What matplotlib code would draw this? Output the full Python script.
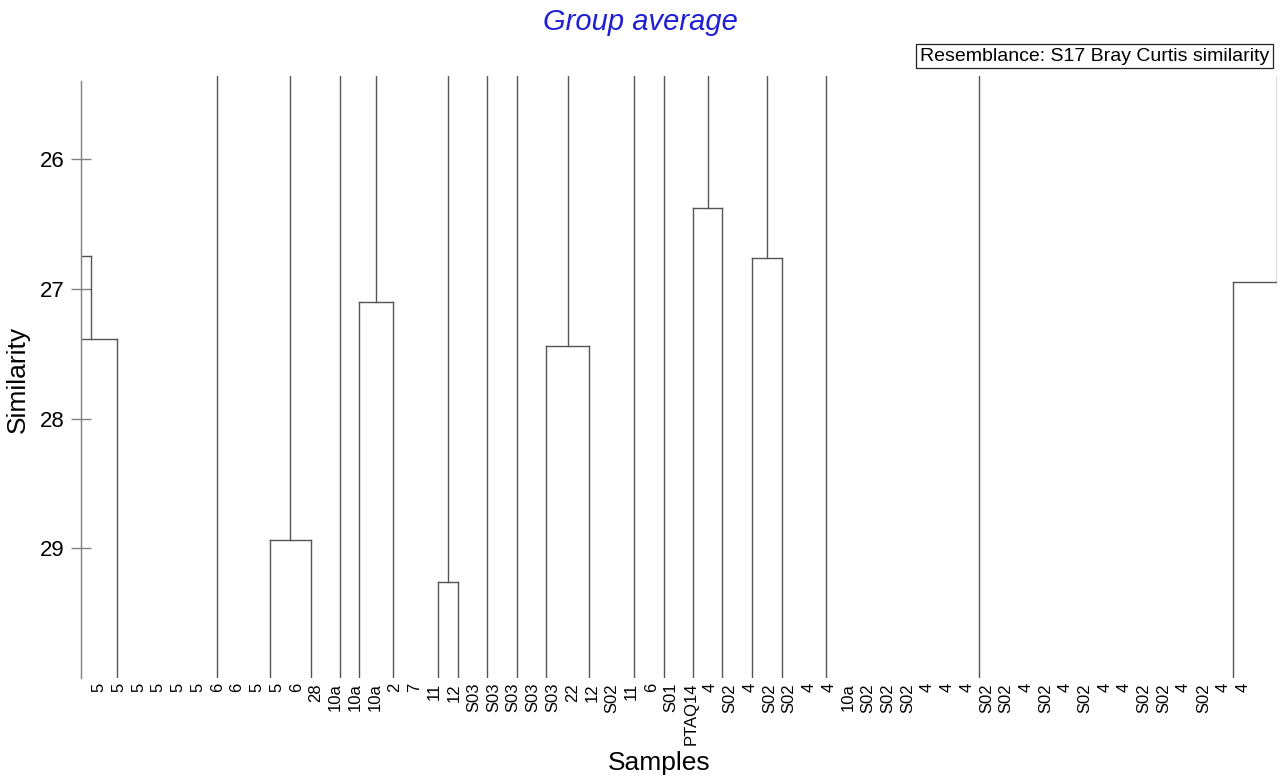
import numpy as np
import matplotlib.pyplot as plt

plt.rcParams['font.family'] = ['Liberation Sans', 'DejaVu Sans']

# sample names along the bottom, in dendrogram order
samples = ['5', '5', '5', '5', '5', '5', '6', '6', '5', '5', '6', '28', '10a', '10a', '10a',
           '2', '7', '11', '12', 'S03', 'S03', 'S03', 'S03', 'S03', '22', '12', 'S02', '11',
           '6', 'S01', 'PTAQ14', '4', 'S02', '4', 'S02', 'S02', '4', '4', '10a', 'S02', 'S02',
           'S02', '4', '4', '4', 'S02', 'S02', '4', 'S02', '4', 'S02', '4', '4', 'S02', 'S02',
           '4', 'S02', '4', '4']

# joins visible in the similarity window: left branch, right branch, similarity level
join_left = [-3.0, -1.76, 8.67, 13.20, 17.17, 22.65, 30.14, 33.10, 57.52]
join_right = [-0.42, 0.92, 10.74, 14.92, 18.19, 24.86, 31.61, 34.62, 62.0]
join_sim = [26.75, 27.39, 28.94, 27.10, 29.26, 27.44, 26.38, 26.76, 26.95]

# groups that only join above the visible window
group_x = [5.97, 12.22, 19.66, 21.18, 27.13, 28.64, 36.84, 44.62]

sim_top = 25.36
sim_base = 30.0
line_col = '#555555'

fig = plt.figure(figsize=(12.88, 7.78), dpi=100)
ax = fig.add_axes([0.0627, 0.1285, 0.9285, 0.7738])

centres = [(l + r) / 2 for l, r in zip(join_left, join_right)]

for l, r, s in zip(join_left, join_right, join_sim):
    ax.plot([l, r], [s, s], color=line_col, lw=1.0)
    for xb in (l, r):
        lower = sim_base
        for c, cs in zip(centres, join_sim):
            if abs(c - xb) < 0.05:
                lower = cs
        ax.plot([xb, xb], [s, lower], color=line_col, lw=1.0)

# stems running up out of the window
for c, s in zip(centres, join_sim):
    has_parent = any(abs(c - xb) < 0.05 for xb in join_left + join_right)
    if not has_parent:
        ax.plot([c, c], [s, sim_top], color=line_col, lw=1.0)

for xg in group_x:
    ax.plot([xg, xg], [sim_base, sim_top], color=line_col, lw=1.0)

ax.set_xlim(-0.93, 59.72)
ax.set_ylim(sim_base, sim_top)

for side in ['top', 'right', 'bottom']:
    ax.spines[side].set_visible(False)
ax.spines['left'].set_bounds(25.40, sim_base)
ax.spines['left'].set_color('#808080')
ax.spines['left'].set_linewidth(1.0)

ax.set_yticks([26, 27, 28, 29])
ax.tick_params(axis='y', direction='inout', length=13.7, width=1.0, color='#808080',
               labelsize=16, pad=5)

ax.set_xticks(np.arange(len(samples)))
ax.set_xticklabels(samples, rotation=90, fontsize=12)
ax.tick_params(axis='x', length=0, pad=3.5)

fig.text(0.497, 0.972, 'Group average', ha='center', va='center', fontsize=21,
         style='italic', color='#1f1fd6')
fig.text(0.9855, 0.928, 'Resemblance: S17 Bray Curtis similarity', ha='right', va='center',
         fontsize=14, bbox=dict(boxstyle='square,pad=0.2', facecolor='white',
                                edgecolor='#222222', linewidth=0.9))
fig.text(0.014, 0.512, 'Similarity', rotation=90, ha='center', va='center', fontsize=19)
fig.text(0.512, 0.019, 'Samples', ha='center', va='center', fontsize=19)

fig.savefig('out.png', dpi=100)
